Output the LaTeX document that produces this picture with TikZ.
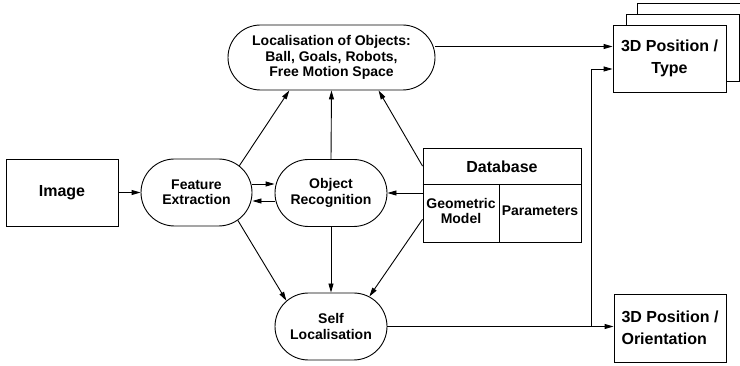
\documentclass[tikz,border=0pt]{standalone}
\usepackage{fontspec}
\setmainfont{Liberation Sans}
\usetikzlibrary{shapes.misc,arrows.meta,calc}

\begin{document}
\begin{tikzpicture}[x=1pt,y=-1pt,line width=0.9pt,
    txt/.style={font=\fontsize{14}{15.5}\selectfont\bfseries,align=center,inner sep=0pt},
    bigtxt/.style={font=\fontsize{16}{21.5}\selectfont\bfseries,inner sep=0pt},
    stad/.style={draw,rounded rectangle,txt,minimum height=67pt},
    box/.style={draw,rectangle,bigtxt,fill=white,minimum width=113pt,minimum height=67pt},
    arr/.style={-{Triangle[length=9pt,width=5pt]}}]
      \useasboundingbox (0,0) rectangle (740,366);
      \node[box,minimum width=112pt] (img) at (62,192.5) {Image};
      \node[stad,minimum width=111pt] (fe) at (196.5,192.5) {Feature\\Extraction};
      \node[stad,minimum width=112pt] (ob) at (331,193) {Object\\Recognition};
      \node[stad,minimum width=112pt] (sl) at (331,326.5) {Self\\Localisation};
      \node[stad,minimum width=207pt,minimum height=65pt] (loc) at (331.5,57.5)
        {Localisation of Objects:\\Ball, Goals, Robots,\\Free Motion Space};
      \node[draw,minimum width=158pt,minimum height=94pt,inner sep=0pt] (db) at (502,195) {};
      \coordinate (dbm) at (499,184);
      \draw (db.west |- dbm) -- (db.east |- dbm);
      \draw (dbm) -- (dbm |- db.south);
      \node[bigtxt] (dbh) at (502,167) {Database};
      \node[txt] (gm) at (461,211) {Geometric\\Model};
      \node[txt] (par) at (540,211) {Parameters};
      \node[box] (t3) at (693.5,36.5) {};
      \node[box] (t2) at (682.5,47.5) {};
      \node[box,align=center] (t1) at (669.5,58.5) {3D Position /\\Type};
      \node[box,align=left,minimum width=112pt,minimum height=68pt] (or) at (670,328)
        {3D Position /\\Orientation};
      \draw[arr] (img.east) -- (fe.west);
      \draw[arr] ([yshift=8.5pt]fe.east) -- ([yshift=8.5pt]fe.east -| ob.west);
      \draw[arr] ([yshift=-8pt]ob.west) -- ([yshift=-8pt]ob.west -| fe.east);
      \draw[arr] (db.west |- ob.east) -- (ob.east);
      \draw[arr] (ob.north) -- (loc.south);
      \draw[arr] (fe.32) -- (loc.218);
      \draw[arr] (db.160) -- (loc.325);
      \draw[arr] (ob.south) -- (sl.north);
      \draw[arr] (fe.-34) -- (sl.150);
      \draw[arr] (db.197) -- (sl.38);
      \draw[arr] ([yshift=11pt]loc.east) -- ([yshift=11pt]loc.east -| t1.west);
      \draw[arr] (sl.east) -- (sl.east -| or.west);
      \coordinate (br) at (591,327);
      \draw[arr] (br) |- ([yshift=-10.5pt]t1.west);
    \end{tikzpicture}
\end{document}
